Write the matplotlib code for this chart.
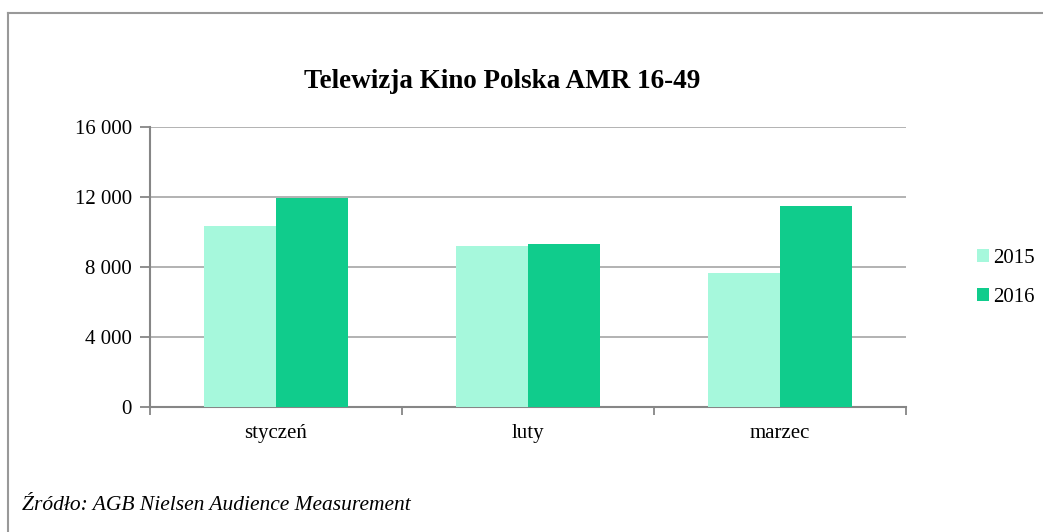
import numpy as np
import matplotlib
matplotlib.use("Agg")
import matplotlib.pyplot as plt
from matplotlib.lines import Line2D

# dane
miesiace = ["styczeń", "luty", "marzec"]
lata = ["2015", "2016"]
amr_2015 = [10360, 9180, 7660]
amr_2016 = [11940, 9340, 11510]
kolory = ["#a6f8dc", "#10cc8c"]

plt.rcParams["font.family"] = ["Liberation Serif", "DejaVu Serif"]

fig = plt.figure(figsize=(10.43, 5.32), dpi=100)
ax = fig.add_axes([150/1043, 1-407/532, (906-150)/1043, (407-127)/532])

x = np.arange(len(miesiace))
w = 72/252
ax.bar(x - w/2, amr_2015, width=w, color=kolory[0], label=lata[0], zorder=3)
ax.bar(x + w/2, amr_2016, width=w, color=kolory[1], label=lata[1], zorder=3)

ax.set_xlim(-0.5, 2.5)
ax.set_ylim(0, 16000)
ax.set_yticks(np.arange(0, 16001, 4000))
ax.set_yticklabels([f"{v:,}".replace(",", " ") for v in range(0, 16001, 4000)], fontsize=15)
ax.set_xticks(x)
ax.set_xticklabels(miesiace, fontsize=15)
ax.set_xticks([-0.5, 0.5, 1.5, 2.5], minor=True)
ax.tick_params(axis="x", which="major", length=0, pad=12)
ax.tick_params(axis="x", which="minor", length=6, color="#868686", width=1.3)
ax.tick_params(axis="y", length=7, color="#868686", width=1.3, pad=6)

ax.grid(axis="y", color="#a6a6a6", linewidth=1.2, zorder=0)
for s in ["top", "right"]:
    ax.spines[s].set_visible(False)
for s in ["left", "bottom"]:
    ax.spines[s].set_color("#868686")
    ax.spines[s].set_linewidth(1.5)

fig.text(502/1043, 1-81/532, "Telewizja Kino Polska AMR 16-49", ha="center", va="center",
         fontsize=19.5, fontweight="bold")

leg = fig.legend(loc="center left", bbox_to_anchor=(967/1043, 1-278/532), frameon=False,
                 fontsize=15, handlelength=0.55, handleheight=0.55, handletextpad=0.2,
                 labelspacing=0.95, borderpad=0)

fig.text(22/1043, 1-506/532, "Źródło: AGB Nielsen Audience Measurement", ha="left", va="center",
         fontsize=15.5, style="italic")

# ramka
fig.add_artist(Line2D([8/1043, 1], [1-12.5/532, 1-12.5/532], color="#999999", lw=1.5))
fig.add_artist(Line2D([8/1043, 8/1043], [0, 1-12.5/532], color="#999999", lw=1.5))

fig.savefig("out.png", dpi=100)
